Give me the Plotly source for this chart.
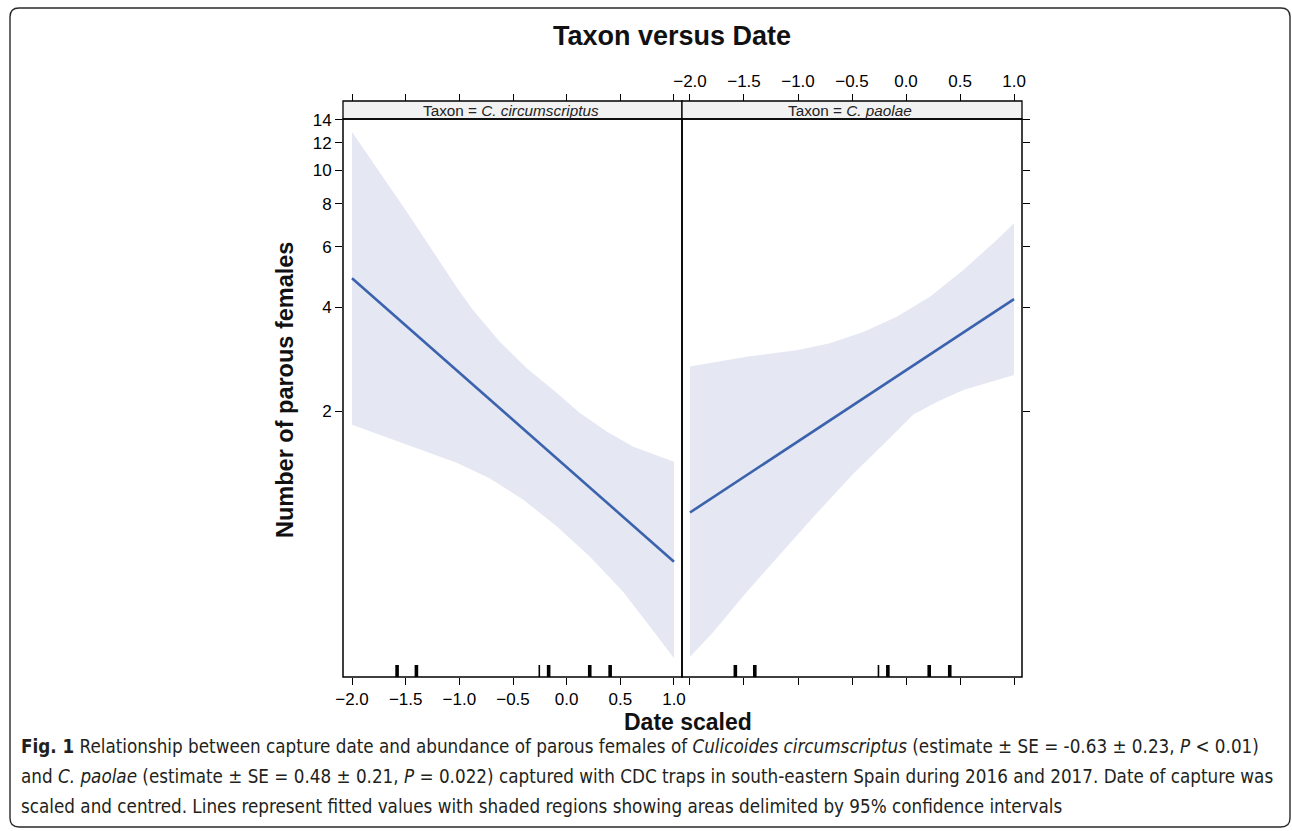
import plotly.graph_objects as go
import math

W, H = 1292, 831

# ---------------- data ----------------
# fitted lines (log-linear model -> straight on log axis)
circ_line_x = [-2.0, 1.0]
circ_line_y = [4.86, 0.735]
pao_line_x = [-2.0, 1.0]
pao_line_y = [1.02, 4.23]

# 95% confidence band, C. circumscriptus
circ_up_x = [-2.0, -1.49, -1.025, -0.869, -0.621, -0.372, -0.124, 0.124, 0.373, 0.621, 1.0]
circ_up_y = [12.9, 7.58, 4.58, 3.92, 3.18, 2.67, 2.31, 1.98, 1.75, 1.58, 1.43]
circ_lo_x = [-2.0, -1.49, -1.025, -0.714, -0.404, -0.093, 0.217, 0.528, 0.777, 1.0]
circ_lo_y = [1.83, 1.60, 1.42, 1.28, 1.11, 0.93, 0.76, 0.60, 0.476, 0.386]

# 95% confidence band, C. paolae
pao_up_x = [-2.0, -1.475, -1.012, -0.704, -0.395, -0.086, 0.222, 0.531, 0.840, 1.0]
pao_up_y = [2.70, 2.88, 3.01, 3.15, 3.40, 3.76, 4.30, 5.14, 6.27, 7.01]
pao_lo_x = [-2.0, -1.784, -1.475, -1.167, -0.858, -0.488, -0.17, 0.068, 0.30, 0.531, 1.0]
pao_lo_y = [0.39, 0.46, 0.60, 0.77, 0.99, 1.32, 1.65, 1.96, 2.14, 2.31, 2.55]

# rug of observed (scaled) dates and how many overlap at each
rug_dates = [-1.58, -1.40, -0.255, -0.168, 0.215, 0.405]
rug_counts = [2, 2, 1, 2, 2, 2]

x_ticks = [-2.0, -1.5, -1.0, -0.5, 0.0, 0.5, 1.0]
y_ticks = [2, 4, 6, 8, 10, 12, 14]

panel_labels = ["Taxon = <i>C. circumscriptus</i>", "Taxon = <i>C. paolae</i>"]
title_text = "Taxon versus Date"
x_title = "Date scaled"
y_title = "Number of parous females"
caption_lines = [
    "<b>Fig. 1</b> Relationship between capture date and abundance of parous females of "
    "<i>Culicoides circumscriptus</i> (estimate ± SE = -0.63 ± 0.23, <i>P</i> &lt; 0.01)",
    "and <i>C. paolae</i> (estimate ± SE = 0.48 ± 0.21, <i>P</i> = 0.022) captured with CDC traps "
    "in south-eastern Spain during 2016 and 2017. Date of capture was",
    "scaled and centred. Lines represent fitted values with shaded regions showing areas "
    "delimited by 95% confidence intervals",
]

# ---------------- layout geometry (pixels) ----------------
def px(x):
    return x / W

def py(y):
    return 1 - y / H

L_left, L_mid, L_right = 343, 682, 1022
P_top, P_bot = 119, 677
S_top = 101

BAND = "rgba(229,231,243,1)"
LINE = "#3b63ad"
FONT = "Liberation Sans, Arial, Helvetica, sans-serif"

fig = go.Figure()

def band(xu, yu, xl, yl, xa, ya):
    fig.add_trace(go.Scatter(
        x=list(xu) + list(reversed(xl)),
        y=list(yu) + list(reversed(yl)),
        fill="toself", fillcolor=BAND, line=dict(width=0),
        mode="lines", hoverinfo="skip", showlegend=False,
        xaxis=xa, yaxis=ya))

band(circ_up_x, circ_up_y, circ_lo_x, circ_lo_y, "x", "y")
band(pao_up_x, pao_up_y, pao_lo_x, pao_lo_y, "x2", "y2")

fig.add_trace(go.Scatter(x=circ_line_x, y=circ_line_y, mode="lines",
                         line=dict(color=LINE, width=2.6), showlegend=False,
                         xaxis="x", yaxis="y"))
fig.add_trace(go.Scatter(x=pao_line_x, y=pao_line_y, mode="lines",
                         line=dict(color=LINE, width=2.6), showlegend=False,
                         xaxis="x2", yaxis="y2"))

# invisible helpers so overlaid top axes are drawn
fig.add_trace(go.Scatter(x=[0], y=[2], mode="markers", marker=dict(opacity=0),
                         hoverinfo="skip", showlegend=False, xaxis="x3", yaxis="y"))
fig.add_trace(go.Scatter(x=[0], y=[2], mode="markers", marker=dict(opacity=0),
                         hoverinfo="skip", showlegend=False, xaxis="x4", yaxis="y2"))

shapes = []
# rugs
for xa in ["x", "x2"]:
    for d, c in zip(rug_dates, rug_counts):
        shapes.append(dict(type="line", xref=xa, yref=("y domain" if xa == "x" else "y2 domain"),
                           x0=d, x1=d, y0=0, y1=12 / (P_bot - P_top),
                           line=dict(color="black", width=1.6 * c + 0.4 if c > 1 else 1.6)))

# strips and panel frames
for a, b in [(L_left, L_mid), (L_mid, L_right)]:
    shapes.append(dict(type="rect", xref="paper", yref="paper",
                       x0=px(a), x1=px(b), y0=py(P_top), y1=py(S_top),
                       fillcolor="#f2f2f2", line=dict(color="black", width=1.3), layer="below"))
    shapes.append(dict(type="rect", xref="paper", yref="paper",
                       x0=px(a), x1=px(b), y0=py(P_bot), y1=py(P_top),
                       line=dict(color="black", width=1.5)))

# rounded outer frame
r = 9
x0b, x1b, y0b, y1b = 10, 1290, 8, 827
path = (f"M {px(x0b + r)},{py(y0b)} L {px(x1b - r)},{py(y0b)} "
        f"Q {px(x1b)},{py(y0b)} {px(x1b)},{py(y0b + r)} "
        f"L {px(x1b)},{py(y1b - r)} Q {px(x1b)},{py(y1b)} {px(x1b - r)},{py(y1b)} "
        f"L {px(x0b + r)},{py(y1b)} Q {px(x0b)},{py(y1b)} {px(x0b)},{py(y1b - r)} "
        f"L {px(x0b)},{py(y0b + r)} Q {px(x0b)},{py(y0b)} {px(x0b + r)},{py(y0b)} Z")
shapes.append(dict(type="path", xref="paper", yref="paper", path=path,
                   line=dict(color="#2a2a2a", width=1.4)))

annotations = []
annotations.append(dict(text=f"<b>{title_text}</b>", x=px(672), y=py(36), xref="paper", yref="paper",
                        showarrow=False, font=dict(size=27, color="#111", family=FONT),
                        xanchor="center", yanchor="middle"))
annotations.append(dict(text=f"<b>{y_title}</b>", x=px(285), y=py(390), xref="paper", yref="paper",
                        showarrow=False, textangle=-90, font=dict(size=23.5, color="#111", family=FONT),
                        xanchor="center", yanchor="middle"))
annotations.append(dict(text=f"<b>{x_title}</b>", x=px(688), y=py(722), xref="paper", yref="paper",
                        showarrow=False, font=dict(size=23, color="#111", family=FONT),
                        xanchor="center", yanchor="middle"))
for lab, (a, b) in zip(panel_labels, [(L_left, L_mid), (L_mid, L_right)]):
    annotations.append(dict(text=lab, x=px((a + b) / 2 - 2), y=py((S_top + P_top) / 2 + 0.5),
                            xref="paper", yref="paper", showarrow=False,
                            font=dict(size=15.3, color="#222", family=FONT),
                            xanchor="center", yanchor="middle"))
CAP_FONT = "Liberation Sans Narrow, DejaVu Sans Condensed, Roboto Condensed, Arial Narrow, sans-serif"
for i, line in enumerate(caption_lines):
    annotations.append(dict(text=line, x=px(19), y=py(746 + 30 * i), xref="paper", yref="paper",
                            showarrow=False, font=dict(size=18.7, color="#231f20", family=CAP_FONT),
                            xanchor="left", yanchor="middle", align="left"))

# axis ranges
xr_left = [-2.084, 1.0746]
xr_right = [-2.074, 1.074]
y_bot = 2 * math.exp((411.5 - P_bot) / 150)
y_top = 2 * math.exp((411.5 - P_top) / 150)
yr = [math.log10(y_bot), math.log10(y_top)]

tickfont = dict(size=17, color="black", family=FONT)
common_x = dict(tickmode="array", tickvals=x_ticks, ticktext=[f"{v:.1f}".replace("-", "−") for v in x_ticks],
                ticks="outside", ticklen=7, tickwidth=1.3, tickcolor="black",
                showgrid=False, zeroline=False, showline=False, tickfont=tickfont, automargin=False)

fig.update_layout(
    width=W, height=H, margin=dict(l=0, r=0, t=0, b=0),
    paper_bgcolor="white", plot_bgcolor="rgba(0,0,0,0)",
    template="none", showlegend=False,
    xaxis=dict(domain=[px(L_left), px(L_mid)], range=xr_left, anchor="y", side="bottom",
               showticklabels=True, **common_x),
    xaxis2=dict(domain=[px(L_mid), px(L_right)], range=xr_right, anchor="y2", side="bottom",
                showticklabels=False, **common_x),
    xaxis3=dict(range=xr_left, overlaying="x", side="top", anchor="free", position=py(S_top),
                showticklabels=False, **common_x),
    xaxis4=dict(range=xr_right, overlaying="x2", side="top", anchor="free", position=py(S_top),
                showticklabels=True, **common_x),
    yaxis=dict(domain=[py(P_bot), py(P_top)], type="log", range=yr, anchor="x", side="left",
               tickmode="array", tickvals=y_ticks, ticktext=[str(v) for v in y_ticks],
               ticks="outside", ticklen=7, tickwidth=1.3, tickcolor="black",
               showgrid=False, zeroline=False, showline=False, tickfont=tickfont, automargin=False),
    yaxis2=dict(domain=[py(P_bot), py(P_top)], type="log", range=yr, anchor="x2", side="right",
                tickmode="array", tickvals=y_ticks, showticklabels=False,
                ticks="outside", ticklen=7, tickwidth=1.3, tickcolor="black",
                showgrid=False, zeroline=False, showline=False, automargin=False),
    shapes=shapes, annotations=annotations,
)

fig.write_html("out.html", config={"displayModeBar": False},
               post_script="document.body.style.margin='0';document.body.style.overflow='hidden';")
